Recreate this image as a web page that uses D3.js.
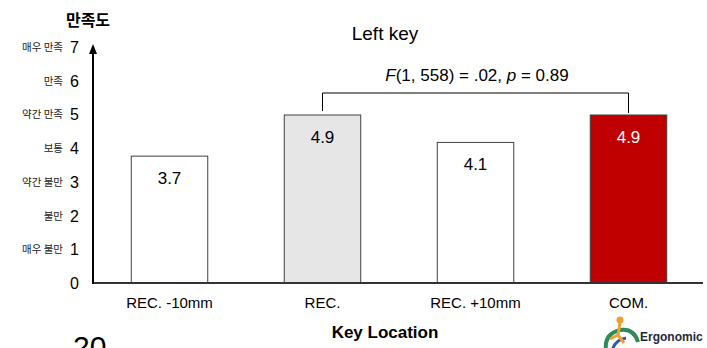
<!DOCTYPE html>
<html>
<head>
<meta charset="utf-8">
<script src="https://cdn.jsdelivr.net/npm/d3@7"></script>
<style>
  body { margin: 0; background: #fff; }
  svg { display: block; font-family: "Liberation Sans", Arial, sans-serif; }
  .kr { font-family: "Noto Sans CJK KR", sans-serif; }
</style>
</head>
<body>
<svg id="chart" width="707" height="348"></svg>
<script>
// 데이터
const categories = ["REC. -10mm", "REC.", "REC. +10mm", "COM."];
const values = [3.7, 4.9, 4.1, 4.9];
const barColors = ["#ffffff", "#e6e6e6", "#ffffff", "#c00000"];
const labelColors = ["#000", "#000", "#000", "#fff"];
const tickValues = [0, 1, 2, 3, 4, 5, 6, 7];
const tickNames = ["", "매우 불만", "불만", "약간 불만", "보통", "약간 만족", "만족", "매우 만족"];

const svg = d3.select("#chart");

const x0 = 93, baseY = 283;

const x = d3.scaleBand()
  .domain(categories)
  .range([93, 705])
  .paddingInner(0.5)
  .paddingOuter(0.25);

const y = d3.scaleLinear()
  .domain([0, 7])
  .range([baseY, 43]);

// 막대
svg.selectAll("rect.bar")
  .data(values)
  .enter()
  .append("rect")
  .attr("class", "bar")
  .attr("x", (d, i) => x(categories[i]))
  .attr("y", d => y(d))
  .attr("width", x.bandwidth())
  .attr("height", d => baseY - y(d))
  .attr("fill", (d, i) => barColors[i])
  .attr("stroke", "#404040")
  .attr("stroke-width", 1);

// 막대 값
svg.selectAll("text.val")
  .data(values)
  .enter()
  .append("text")
  .attr("x", (d, i) => x(categories[i]) + x.bandwidth() / 2)
  .attr("y", d => y(d) + 28)
  .attr("text-anchor", "middle")
  .attr("font-size", 17)
  .attr("fill", (d, i) => labelColors[i])
  .text(d => d.toFixed(1));

// 기준선
svg.append("line")
  .attr("x1", x0).attr("x2", 703)
  .attr("y1", baseY).attr("y2", baseY)
  .attr("stroke", "#333").attr("stroke-width", 2);

// y축 + 화살표
svg.append("line")
  .attr("x1", x0).attr("x2", x0)
  .attr("y1", baseY + 1).attr("y2", 52)
  .attr("stroke", "#000").attr("stroke-width", 2);
svg.append("path")
  .attr("d", `M${x0},44 L${x0 - 4},54 L${x0 + 4},54 Z`)
  .attr("fill", "#000");

// y 눈금 라벨
const ticks = svg.selectAll("g.tick")
  .data(tickValues)
  .enter()
  .append("g")
  .attr("transform", d => `translate(0,${y(d) + d * 0.55})`);

ticks.append("text")
  .attr("x", 79)
  .attr("y", 6)
  .attr("text-anchor", "end")
  .attr("font-size", 16)
  .text(d => d);

ticks.append("text")
  .attr("class", "kr")
  .attr("x", 63)
  .attr("y", 4)
  .attr("text-anchor", "end")
  .attr("font-size", 10.5)
  .attr("fill", "#222")
  .text((d, i) => tickNames[i]);

// y축 제목
svg.append("text")
  .attr("class", "kr")
  .attr("x", 88)
  .attr("y", 26)
  .attr("text-anchor", "middle")
  .attr("font-size", 16)
  .attr("font-weight", "bold")
  .text("만족도");

// x 라벨
svg.selectAll("text.cat")
  .data(categories)
  .enter()
  .append("text")
  .attr("x", d => x(d) + x.bandwidth() / 2)
  .attr("y", 308)
  .attr("text-anchor", "middle")
  .attr("font-size", 15)
  .text(d => d);

svg.append("text")
  .attr("x", 385)
  .attr("y", 338)
  .attr("text-anchor", "middle")
  .attr("font-size", 17)
  .attr("font-weight", "bold")
  .text("Key Location");

// 제목
svg.append("text")
  .attr("x", 385)
  .attr("y", 40)
  .attr("text-anchor", "middle")
  .attr("font-size", 19)
  .text("Left key");

// 통계 브래킷
const bx1 = x(categories[1]) + x.bandwidth() / 2;
const bx2 = x(categories[3]) + x.bandwidth() / 2;
svg.append("path")
  .attr("d", `M${bx1},${y(values[1]) - 4} V93 H${bx2} V${y(values[3]) - 2}`)
  .attr("fill", "none")
  .attr("stroke", "#000")
  .attr("stroke-width", 1);

const ft = svg.append("text")
  .attr("x", 477)
  .attr("y", 81)
  .attr("text-anchor", "middle")
  .attr("font-size", 17);
ft.append("tspan").attr("font-style", "italic").text("F");
ft.append("tspan").text("(1, 558) = .02, ");
ft.append("tspan").attr("font-style", "italic").text("p");
ft.append("tspan").text(" = 0.89");

// 페이지 번호 (잘림)
svg.append("text")
  .attr("x", 73)
  .attr("y", 357)
  .attr("font-size", 30)
  .text("20");

// 로고 (대략)
const logo = svg.append("g").attr("transform", "translate(600,316)");
logo.append("path")
  .attr("d", "M6,34 Q4,18 20,14 Q34,12 38,26")
  .attr("fill", "none").attr("stroke", "#2e8b57").attr("stroke-width", 4);
logo.append("path")
  .attr("d", "M12,36 Q14,24 26,22")
  .attr("fill", "none").attr("stroke", "#2a5caa").attr("stroke-width", 3);
logo.append("circle").attr("cx", 20).attr("cy", 4).attr("r", 3.5).attr("fill", "#f0a030");
logo.append("path")
  .attr("d", "M20,7 L18,19 L10,23 M18,19 L24,27")
  .attr("fill", "none").attr("stroke", "#f0a030").attr("stroke-width", 3);
svg.append("text")
  .attr("x", 640)
  .attr("y", 341)
  .attr("font-size", 12)
  .attr("font-weight", "bold")
  .attr("fill", "#1f2a44")
  .text("Ergonomic");
</script>
</body>
</html>
